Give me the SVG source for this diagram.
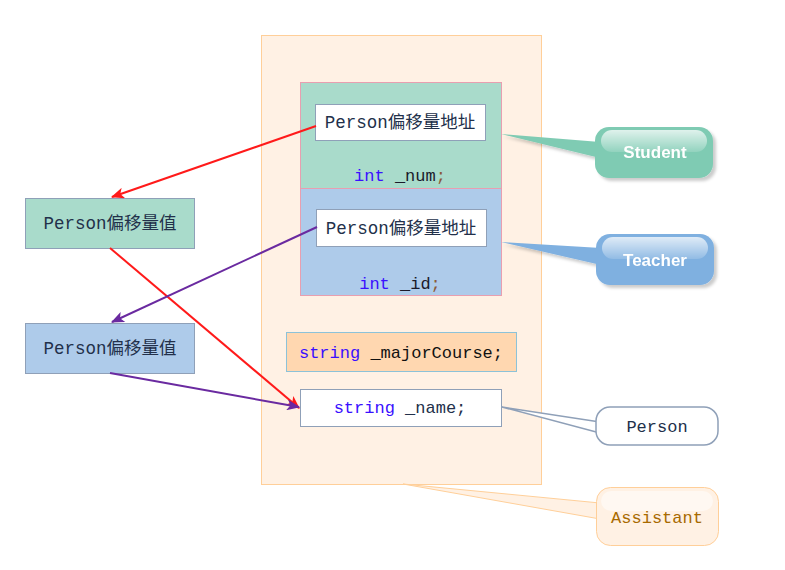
<svg xmlns="http://www.w3.org/2000/svg" width="785" height="570" viewBox="0 0 785 570">
<defs>
<style>
.mono{font-family:"Liberation Mono","Noto Sans CJK SC",monospace;font-size:17px;}
.cjk{font-family:"Liberation Mono","Noto Sans CJK SC",monospace;font-size:17.5px;fill:#22304a;}
.kw{fill:#3a10ff;}
.id{fill:#1a1a2a;}
.semi{fill:#8a5a3a;}
.lbl{font-family:"Liberation Sans",Arial,sans-serif;font-size:17px;font-weight:bold;fill:#ffffff;}
.red{stroke:#ff1a1a;stroke-width:2;fill:none;}
.pur{stroke:#6a2aa0;stroke-width:2;fill:none;}
</style>
<marker id="ar" viewBox="0 0 12 10" refX="11" refY="5" markerWidth="15" markerHeight="11" orient="auto" markerUnits="userSpaceOnUse">
<path d="M0,0 L12,5 L0,10 L3,5 z" fill="#ff1a1a"/>
</marker>
<marker id="ap" viewBox="0 0 12 10" refX="11" refY="5" markerWidth="15" markerHeight="11" orient="auto" markerUnits="userSpaceOnUse">
<path d="M0,0 L12,5 L0,10 L3,5 z" fill="#6a2aa0"/>
</marker>
<linearGradient id="gloss" x1="0" y1="0" x2="0" y2="1">
<stop offset="0" stop-color="#ffffff" stop-opacity="0.75"/>
<stop offset="1" stop-color="#ffffff" stop-opacity="0.15"/>
</linearGradient>
<filter id="sh" x="-10%" y="-10%" width="130%" height="140%">
<feDropShadow dx="3" dy="3" stdDeviation="1.5" flood-color="#000" flood-opacity="0.2"/>
</filter>
</defs>
<rect width="785" height="570" fill="#ffffff"/>

<g id="assistant-container">
<rect x="261.5" y="35.5" width="280" height="449" fill="#fff1e4" stroke="#ffcf99" stroke-width="1"/>
</g>

<g id="student-part">
<rect x="300.5" y="82.5" width="201" height="106" fill="#a9dbcb" stroke="#e89fb0" stroke-width="1"/>
<rect x="315.5" y="104.5" width="170" height="36" fill="#ffffff" stroke="#8fa0b8" stroke-width="1"/>
<text class="cjk" x="400" y="128" text-anchor="middle">Person偏移量地址</text>
<text class="mono" x="400" y="181" text-anchor="middle"><tspan class="kw">int</tspan><tspan class="id"> _num</tspan><tspan class="semi">;</tspan></text>
</g>

<g id="teacher-part">
<rect x="300.5" y="188.5" width="201" height="107" fill="#aecbea" stroke="#e89fb0" stroke-width="1"/>
<rect x="316.5" y="209.5" width="170" height="37" fill="#ffffff" stroke="#8fa0b8" stroke-width="1"/>
<text class="cjk" x="401" y="234" text-anchor="middle">Person偏移量地址</text>
<text class="mono" x="400" y="289" text-anchor="middle"><tspan class="kw">int</tspan><tspan class="id"> _id</tspan><tspan class="semi">;</tspan></text>
</g>

<g id="major-course">
<rect x="286.5" y="332.5" width="230" height="39" fill="#ffd7b0" stroke="#8cc2d8" stroke-width="1"/>
<text class="mono" x="401" y="358" text-anchor="middle"><tspan class="kw">string</tspan><tspan fill="#111"> _majorCourse;</tspan></text>
</g>

<g id="name">
<rect x="300.5" y="389.5" width="201" height="37" fill="#ffffff" stroke="#8fa0b8" stroke-width="1"/>
<text class="mono" x="400" y="413" text-anchor="middle"><tspan class="kw">string</tspan><tspan fill="#22304a"> _name;</tspan></text>
</g>

<g id="left-student-value">
<rect x="25.5" y="198.5" width="169" height="50" fill="#a9dbcb" stroke="#8fa0b8" stroke-width="1"/>
<text class="cjk" x="110" y="229" text-anchor="middle">Person偏移量值</text>
</g>

<g id="left-teacher-value">
<rect x="25.5" y="323.5" width="169" height="50" fill="#aecbea" stroke="#8fa0b8" stroke-width="1"/>
<text class="cjk" x="110" y="354" text-anchor="middle">Person偏移量值</text>
</g>

<g id="callout-student" filter="url(#sh)">
<path d="M501,134 L600,142 L600,158 Z" fill="#7fcbb3"/>
<rect x="595" y="127" width="118" height="51" rx="14" fill="#7fcbb3"/>
<rect x="601" y="130" width="106" height="22" rx="11" fill="url(#gloss)"/>
<text class="lbl" x="655" y="158" text-anchor="middle">Student</text>
</g>

<g id="callout-teacher" filter="url(#sh)">
<path d="M501,242 L601,248 L601,265 Z" fill="#7fb0e0"/>
<rect x="596" y="234" width="118" height="51" rx="14" fill="#7fb0e0"/>
<rect x="602" y="237" width="106" height="22" rx="11" fill="url(#gloss)"/>
<text class="lbl" x="655" y="266" text-anchor="middle">Teacher</text>
</g>

<g id="callout-person">
<path d="M502,407 L600,422 L600,433 Z" fill="#ffffff" stroke="#8fa0b8" stroke-width="1.5" stroke-linejoin="round"/>
<rect x="596" y="407" width="122" height="38" rx="14" fill="#ffffff" stroke="#8fa0b8" stroke-width="1.5"/>
<rect x="598" y="420" width="6" height="15" fill="#ffffff"/>
<text class="mono" x="657" y="432" text-anchor="middle" fill="#22304a">Person</text>
</g>

<g id="callout-assistant">
<path d="M403,484 L600,503 L600,519 Z" fill="#fff1e4" stroke="#ffcf99" stroke-width="1" stroke-linejoin="round"/>
<rect x="596.5" y="487.5" width="122" height="58" rx="14" fill="#fff1e4" stroke="#ffcf99" stroke-width="1"/>
<rect x="598" y="502" width="6" height="18" fill="#fff1e4"/>
<rect x="601" y="491" width="112" height="20" rx="10" fill="#ffffff" opacity="0.5"/>
<text class="mono" x="657" y="523" text-anchor="middle" fill="#a86a00">Assistant</text>
</g>

<g id="connectors">
<line class="red" x1="316" y1="126" x2="112" y2="197" marker-end="url(#ar)"/>
<line class="red" x1="110" y1="248" x2="299" y2="408" marker-end="url(#ar)"/>
<line class="pur" x1="317" y1="227" x2="112" y2="322" marker-end="url(#ap)"/>
<line class="pur" x1="110" y1="373" x2="299" y2="407" marker-end="url(#ap)"/>
</g>
</svg>
